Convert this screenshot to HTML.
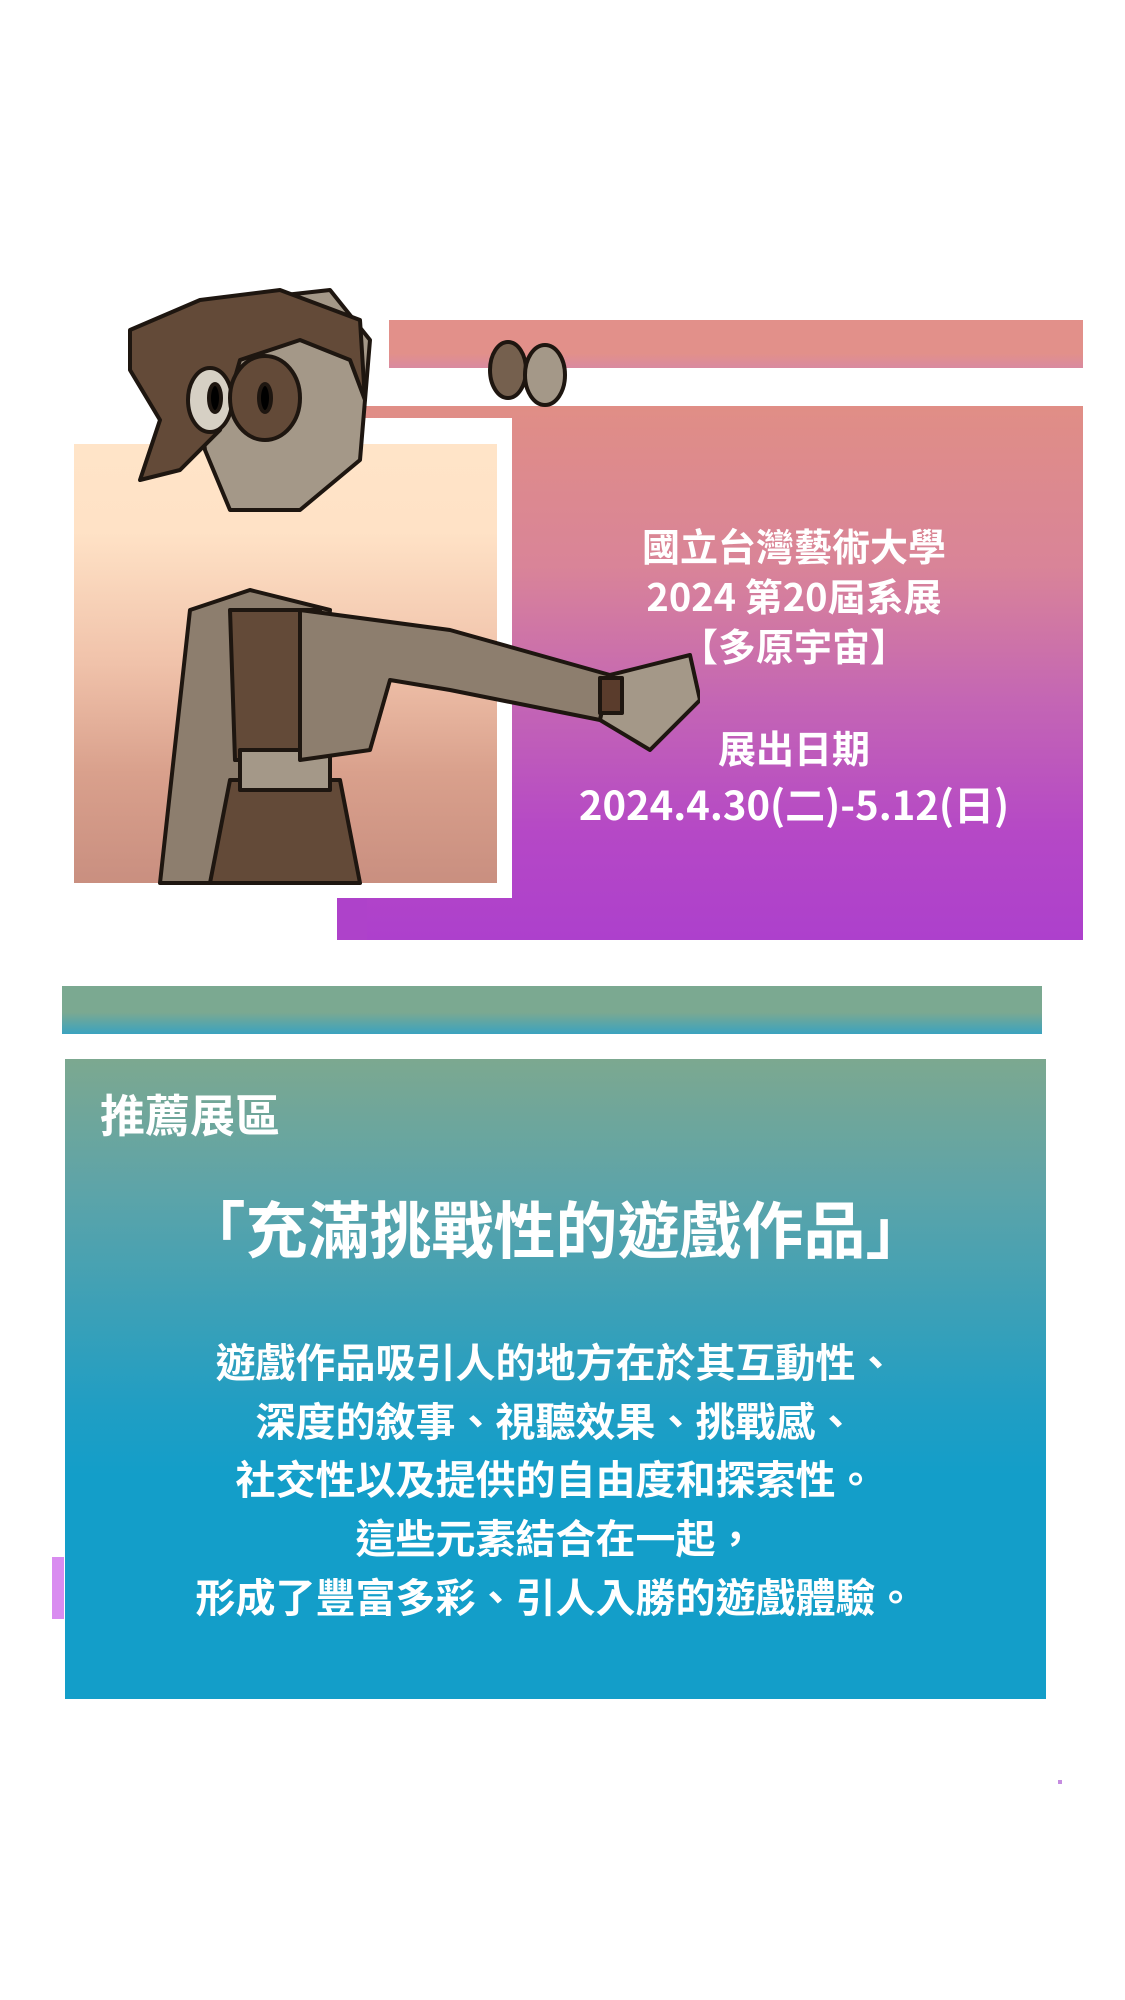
<!DOCTYPE html>
<html><head><meta charset="utf-8">
<style>
html,body{margin:0;padding:0;background:#fff;}
body{width:1125px;height:2000px;position:relative;overflow:hidden;font-family:"Noto Sans CJK TC","Liberation Sans",sans-serif;}
.abs{position:absolute;}
.t{color:#fff;font-weight:700;text-align:center;white-space:nowrap;font-family:"Noto Sans CJK TC","Liberation Sans",sans-serif;}
</style></head><body>
<div class="abs" style="left:389px;top:320px;width:694px;height:48px;background:linear-gradient(#e2908a 70%,#d98aa0);"></div>
<div class="abs" style="left:364px;top:406px;width:719px;height:534px;background:linear-gradient(#e08e86 0%,#d98498 30%,#c466b4 55%,#b548c6 80%,#ad40cc 100%);"></div>
<div class="abs" style="left:337px;top:898px;width:30px;height:42px;background:#ae42ca;"></div>
<div class="abs" style="left:364px;top:418px;width:148px;height:480px;background:#fff;"></div>
<div class="abs" style="left:74px;top:444px;width:423px;height:439px;background:linear-gradient(#ffe4c8 0%,#ffe2c6 20%,#f0c2aa 50%,#d9a08c 75%,#c98f80 100%);"></div>
<svg class="abs" style="left:0;top:280px" width="700" height="620" viewBox="0 0 700 620">
 <g stroke="#1e1610" stroke-width="4" stroke-linejoin="round">
  <path d="M160 603 L190 330 L250 310 L330 330 L300 603 Z" fill="#8d7e6e"/>
  <path d="M210 603 L230 500 L340 500 L360 603 Z" fill="#634a38"/>
  <path d="M230 330 L320 330 L310 480 L235 480 Z" fill="#634a38"/>
  <path d="M240 470 L330 470 L330 510 L240 510 Z" fill="#a49888"/>
  <path d="M300 330 L450 350 L610 395 L600 440 L450 410 L390 400 L370 470 L300 480 Z" fill="#8d7e6e"/>
  <path d="M610 395 L690 375 L700 420 L650 470 L600 440 Z" fill="#a49888"/>
  <rect x="600" y="398" width="22" height="35" fill="#5a3c2c"/>
  <path d="M195 90 L240 20 L330 10 L370 60 L360 180 L300 230 L230 230 L205 170 Z" fill="#a49888"/>
  <path d="M130 50 L200 20 L280 10 L360 40 L365 120 L350 80 L300 60 L240 80 L220 150 L180 190 L140 200 L160 140 L130 90 Z" fill="#634a38"/>
  <ellipse cx="210" cy="120" rx="22" ry="32" fill="#d6d0c4"/>
  <ellipse cx="265" cy="118" rx="35" ry="42" fill="#634a38"/>
  <ellipse cx="265" cy="118" rx="6" ry="14" fill="#000"/>
  <ellipse cx="215" cy="118" rx="6" ry="14" fill="#000"/>
  <ellipse cx="508" cy="90" rx="18" ry="28" fill="#75604e"/>
  <ellipse cx="545" cy="95" rx="20" ry="30" fill="#a49888"/>
 </g>
</svg>
<div class="abs t" style="left:564px;top:520px;width:460px;font-size:38px;line-height:50px;">國立台灣藝術大學<br>2024 第20屆系展<br>【多原宇宙】<br><span style="display:block;height:52px"></span>展出日期</div>
<div class="abs t" style="left:564px;top:778px;width:460px;font-size:40px;line-height:50px;">2024.4.30(二)-5.12(日)</div>
<div class="abs" style="left:62px;top:986px;width:980px;height:48px;background:linear-gradient(#7ba991 55%,#3ba3bf);"></div>
<div class="abs" style="left:65px;top:1059px;width:981px;height:640px;background:linear-gradient(#7ca890 0%,#5ea4a8 20%,#3aa0b8 40%,#1f9ec4 55%,#139ec9 65%,#139ec9 100%);"></div>
<div class="abs t" style="left:100px;top:1085px;font-size:45px;line-height:56px;text-align:left;">推薦展區</div>
<div class="abs t" style="left:65px;top:1188px;width:981px;font-size:62px;line-height:76px;">「充滿挑戰性的遊戲作品」</div>
<div class="abs t" style="left:65px;top:1331px;width:981px;font-size:40px;line-height:58.7px;">遊戲作品吸引人的地方在於其互動性、<br>深度的敘事、視聽效果、挑戰感、<br>社交性以及提供的自由度和探索性。<br>這些元素結合在一起，<br>形成了豐富多彩、引人入勝的遊戲體驗。</div>
<div class="abs" style="left:52px;top:1557px;width:12px;height:62px;background:#d98cf0;"></div>
<div class="abs" style="left:1058px;top:1780px;width:4px;height:4px;background:#c58ce0;"></div>
</body></html>
